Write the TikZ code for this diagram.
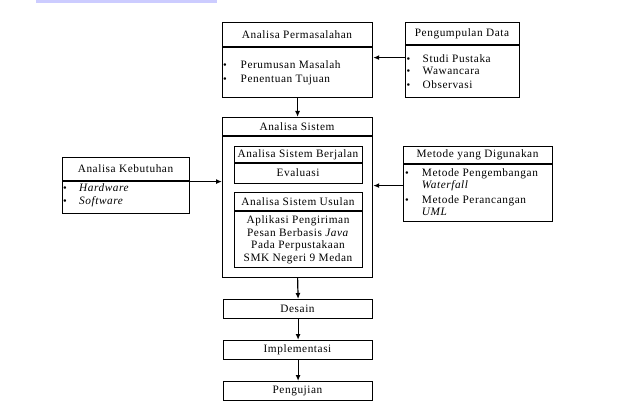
\documentclass[tikz,border=0pt]{standalone}
\usepackage{fontspec}
\setmainfont{Liberation Serif}[LetterSpace=5]
\usetikzlibrary{arrows.meta}
\begin{document}
\begin{tikzpicture}[x=1pt,y=-1pt,
  box/.style={draw,line width=1.2pt,rectangle,anchor=north west,inner sep=0pt},
  sep/.style={line width=1.2pt},
  txt/.style={font=\fontsize{11.3}{13}\selectfont,inner sep=0pt},
  ln/.style={txt,anchor=base west},
  bul/.style={font=\fontsize{10.5}{11}\selectfont,inner sep=0pt,anchor=base west},
  arr/.style={line width=1.2pt,-{Latex[length=6pt,width=5pt]}}]
\useasboundingbox (0,0) rectangle (618,417);
\fill[blue!20] (36,0) rectangle (217,3);
% Analisa Permasalahan
\node[box,minimum width=150,minimum height=75] (perm) at (222,22) {};
\draw[sep] (222,47) -- (372,47);
\node[txt] (permh) at (297,34.5) {Analisa Permasalahan};
\node[bul] (pb1) at (223,68.3) {\textbullet};
\node[ln] (pl1) at (240.5,68.3) {Perumusan Masalah};
\node[bul] (pb2) at (223,82.3) {\textbullet};
\node[ln] (pl2) at (240.5,82.3) {Penentuan Tujuan};
% Pengumpulan Data
\node[box,minimum width=114,minimum height=75] (peng) at (405,22) {};
\draw[sep] (405,45) -- (519,45);
\node[txt] (pengh) at (462,33.5) {Pengumpulan Data};
\node[bul] (gb1) at (406.5,62.5) {\textbullet};
\node[ln] (gl1) at (422.5,62.5) {Studi Pustaka};
\node[bul] (gb2) at (406.5,75) {\textbullet};
\node[ln] (gl2) at (422.5,75) {Wawancara};
\node[bul] (gb3) at (406.5,88.5) {\textbullet};
\node[ln] (gl3) at (422.5,88.5) {Observasi};
% Analisa Sistem
\node[box,minimum width=150,minimum height=160] (sis) at (222,117) {};
\draw[sep] (222,136) -- (372,136);
\node[txt] (sish) at (297,126.5) {Analisa Sistem};
\node[box,minimum width=128,minimum height=37] (berj) at (234,146) {};
\draw[sep] (234,163) -- (362,163);
\node[txt] (berjh) at (298,154.5) {Analisa Sistem Berjalan};
\node[txt] (berjb) at (298,173) {Evaluasi};
\node[box,minimum width=128,minimum height=75] (usul) at (234,192) {};
\draw[sep] (234,211) -- (362,211);
\node[txt] (usulh) at (298,201.5) {Analisa Sistem Usulan};
\node[txt,anchor=base] (u1) at (298,223.5) {Aplikasi Pengiriman};
\node[txt,anchor=base] (u2) at (298,236) {Pesan Berbasis \textit{Java}};
\node[txt,anchor=base] (u3) at (298,248.5) {Pada Perpustakaan};
\node[txt,anchor=base] (u4) at (298,261.5) {SMK Negeri 9 Medan};
% Analisa Kebutuhan
\node[box,minimum width=127,minimum height=56] (keb) at (62,157) {};
\draw[sep] (62,181) -- (189,181);
\node[txt] (kebh) at (125.5,169) {Analisa Kebutuhan};
\node[bul] (kb1) at (63,191.5) {\textbullet};
\node[ln] (kl1) at (79,191.5) {\textit{Hardware}};
\node[bul] (kb2) at (63,204.5) {\textbullet};
\node[ln] (kl2) at (79,204.5) {\textit{Software}};
% Metode
\node[box,minimum width=149,minimum height=75] (met) at (403,146) {};
\draw[sep] (403,164) -- (552,164);
\node[txt] (meth) at (477.5,155) {Metode yang Digunakan};
\node[bul] (mb1) at (405,176) {\textbullet};
\node[ln] (ml1) at (421.7,176) {Metode Pengembangan};
\node[ln] (ml2) at (421.7,188.7) {\textit{Waterfall}};
\node[bul] (mb2) at (405,203.3) {\textbullet};
\node[ln] (ml3) at (421.7,203.3) {Metode Perancangan};
\node[ln] (ml4) at (421.7,215.7) {\textit{UML}};
% Bottom chain
\node[box,minimum width=149,minimum height=19] (des) at (223,299) {};
\node[txt] (desh) at (297.5,308.5) {Desain};
\node[box,minimum width=149,minimum height=19] (imp) at (223,340) {};
\node[txt] (imph) at (297.5,349.5) {Implementasi};
\node[box,minimum width=149,minimum height=19] (pgj) at (223,381) {};
\node[txt] (pgjh) at (297.5,390.5) {Pengujian};
% Connectors
\draw[arr] ([yshift=2.5pt]peng.west) -- ([yshift=2.5pt]peng.west -| perm.east);
\draw[arr] (perm.south) -- (sis.north);
\draw[arr] ([yshift=4pt]keb.east) -- ([yshift=4pt]keb.east -| sis.west);
\draw[arr] ([yshift=-1.5pt]met.west) -- ([yshift=-1.5pt]met.west -| sis.east);
\draw[arr] (sis.south) -- (des.north);
\draw[arr] (des.south) -- (imp.north);
\draw[arr] (imp.south) -- (pgj.north);
\end{tikzpicture}
\end{document}
